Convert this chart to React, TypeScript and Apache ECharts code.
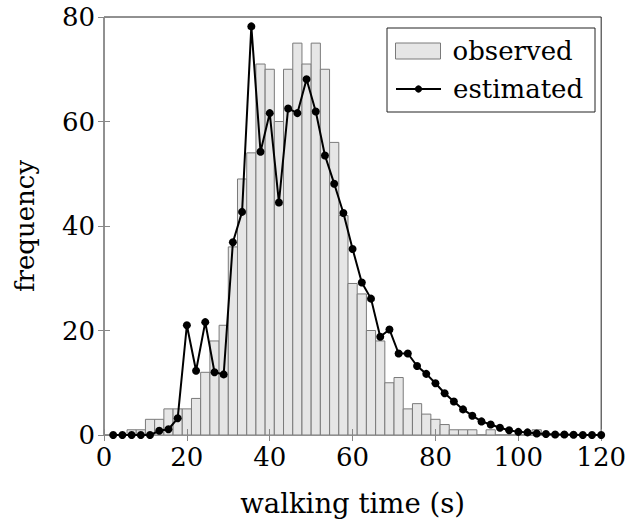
import React, { useEffect, useRef } from "react";
import * as echarts from "echarts";

// Bin centres of the walking-time histogram (s); each bin is 120/54 s wide.
const binWidth = 120 / 54;
const binCentres = [
  2.22, 4.44, 6.67, 8.89, 11.11, 13.33, 15.56, 17.78, 20.0, 22.22,
  24.44, 26.67, 28.89, 31.11, 33.33, 35.56, 37.78, 40.0, 42.22, 44.44,
  46.67, 48.89, 51.11, 53.33, 55.56, 57.78, 60.0, 62.22, 64.44, 66.67,
  68.89, 71.11, 73.33, 75.56, 77.78, 80.0, 82.22, 84.44, 86.67, 88.89,
  91.11, 93.33, 95.56, 97.78, 100.0, 102.22, 104.44, 106.67, 108.89, 111.11,
  113.33, 115.56, 117.78, 120.0,
];

// Observed counts per bin.
const observed = [
  0, 0, 1, 1, 3, 3, 5, 5, 5, 7,
  12, 18, 21, 36, 49, 54, 71, 70, 60, 70,
  75, 71, 75, 70, 56, 42, 29, 27, 20, 18,
  10, 11, 5, 6, 4, 3, 2, 1, 1, 1,
  0, 1, 0, 0, 0, 0, 1, 0, 0, 0,
  0, 0, 0, 0,
];

// Estimated frequency per bin.
const estimated = [
  0, 0, 0, 0, 0, 0.8, 1.1, 3.2, 21.0, 12.3,
  21.6, 12.0, 11.6, 36.9, 42.7, 78.2, 54.2, 61.6, 44.5, 62.5,
  61.6, 68.1, 61.9, 53.5, 48.1, 42.5, 35.6, 29.2, 26.1, 18.8,
  20.2, 15.6, 15.6, 13.2, 11.7, 9.9, 8.0, 6.4, 4.9, 3.7,
  2.6, 2.0, 1.4, 0.9, 0.6, 0.5, 0.3, 0.2, 0.1, 0.1,
  0.05, 0, 0, 0,
];

const FONT = "DejaVu Serif";

export default function App() {
  const ref = useRef<HTMLDivElement>(null);

  useEffect(() => {
    if (!ref.current) return;
    const chart = echarts.init(ref.current, undefined, { renderer: "svg" });

    const tickStyle = { color: "#888", width: 1 };
    const baseX = {
      type: "value" as const,
      min: 0,
      max: 120,
      interval: 20,
      axisLine: { show: false },
      splitLine: { show: false },
      axisTick: { inside: true, length: 6, lineStyle: tickStyle },
      z: 3,
    };
    const baseY = {
      type: "value" as const,
      min: 0,
      max: 80,
      interval: 20,
      axisLine: { show: false },
      splitLine: { show: false },
      axisTick: { inside: true, length: 6, lineStyle: tickStyle },
      z: 3,
    };
    const legendText = {
      fontFamily: FONT,
      fontSize: 26,
      color: "#000",
      lineHeight: 30,
      padding: [0, 0, 0, 7],
    };

    chart.setOption({
      animation: false,
      backgroundColor: "#fff",
      grid: {
        left: 104,
        right: 21,
        top: 17,
        bottom: 90,
        show: true,
        borderColor: "#222",
        borderWidth: 1,
        backgroundColor: "transparent",
      },
      xAxis: [
        {
          ...baseX,
          position: "bottom",
          name: "walking time (s)",
          nameLocation: "middle",
          nameGap: 54,
          nameTextStyle: { fontFamily: FONT, fontSize: 27.5, color: "#000" },
          axisLabel: { margin: 9, fontFamily: FONT, fontSize: 26, color: "#000" },
        },
        { ...baseX, position: "top", axisLabel: { show: false } },
      ],
      yAxis: [
        {
          ...baseY,
          position: "left",
          name: "frequency",
          nameLocation: "middle",
          nameGap: 66,
          nameTextStyle: { fontFamily: FONT, fontSize: 26, color: "#000" },
          axisLabel: { margin: 9, fontFamily: FONT, fontSize: 26, color: "#000" },
        },
        { ...baseY, position: "right", axisLabel: { show: false } },
      ],
      legend: [
        {
          left: 395,
          top: 36,
          padding: 0,
          itemWidth: 45,
          itemHeight: 16,
          textStyle: legendText,
          data: [
            {
              name: "observed",
              icon: "rect",
              itemStyle: { color: "#e6e6e6", borderColor: "#7a7a7a", borderWidth: 1 },
            },
          ],
        },
        {
          left: 395,
          top: 74,
          padding: 0,
          itemWidth: 45,
          itemHeight: 9,
          textStyle: legendText,
          data: [{ name: "estimated" }],
        },
      ],
      graphic: [
        {
          type: "rect",
          z: 3,
          shape: { x: 387, y: 28, width: 208, height: 84 },
          style: { fill: "#fff", stroke: "#222", lineWidth: 1 },
        },
      ],
      series: [
        {
          name: "observed",
          type: "custom",
          xAxisIndex: 0,
          yAxisIndex: 0,
          clip: true,
          data: binCentres.map((t, i) => [t, observed[i]]),
          encode: { x: 0, y: 1 },
          itemStyle: { color: "#e6e6e6", borderColor: "#7a7a7a" },
          renderItem: (_params: any, api: any) => {
            const t = api.value(0);
            const v = api.value(1);
            if (!v) return null;
            const p0 = api.coord([t - binWidth / 2, v]);
            const p1 = api.coord([t + binWidth / 2, 0]);
            return {
              type: "rect",
              shape: { x: p0[0], y: p0[1], width: p1[0] - p0[0], height: p1[1] - p0[1] },
              style: { fill: "#e6e6e6", stroke: "#7a7a7a", lineWidth: 1 },
            };
          },
        },
        {
          name: "estimated",
          type: "line",
          xAxisIndex: 0,
          yAxisIndex: 0,
          data: binCentres.map((t, i) => [t, estimated[i]]),
          symbol: "circle",
          symbolSize: 8,
          showSymbol: true,
          itemStyle: { color: "#000" },
          lineStyle: { color: "#000", width: 2 },
          z: 4,
        },
      ],
    });

    return () => chart.dispose();
  }, []);

  return (
    <div
      ref={ref}
      style={{ position: "fixed", left: 0, top: 0, width: 629, height: 525 }}
    />
  );
}
